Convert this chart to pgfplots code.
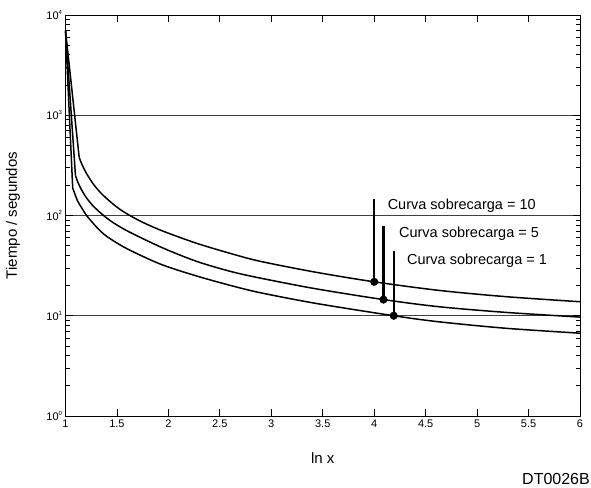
\documentclass[border=0pt]{standalone}
\usepackage{fontspec}
\setmainfont{Liberation Sans}
\usepackage{pgfplots}
\pgfplotsset{compat=1.18}
\newcommand{\dec}[1]{10\raisebox{0.9ex}{\fontsize{6}{6}\selectfont #1}}
\begin{document}
\begin{tikzpicture}
\begin{axis}[
    at={(0pt,0pt)}, anchor=south west,
    scale only axis, width=514.5pt, height=401pt,
    xmin=1, xmax=6,
    ymode=log, ymin=1, ymax=10000,
    xtick={1,1.5,2,2.5,3,3.5,4,4.5,5,5.5,6},
    xticklabels={1,1.5,2,2.5,3,3.5,4,4.5,5,5.5,6},
    ytick={1,10,100,1000,10000},
    yticklabels={\dec{0},\dec{1},\dec{2},\dec{3},\dec{4}},
    minor ytick={2,3,4,5,6,7,8,9,20,30,40,50,60,70,80,90,200,300,400,500,600,700,800,900,2000,3000,4000,5000,6000,7000,8000,9000},
    ymajorgrids, grid style={black!75, line width=0.8pt},
    tick align=inside, major tick length=7pt, minor tick length=4.5pt,
    axis line style={black, line width=0.9pt},
    every tick/.style={black, line width=0.8pt},
    ticklabel style={font=\fontsize{11}{13}\selectfont},
    xlabel={ln x}, ylabel={Tiempo / segundos},
    label style={font=\fontsize{15}{17}\selectfont},
    xlabel style={at={(axis description cs:0.5,0)}, anchor=base, yshift=-47pt},
    ylabel style={at={(axis description cs:-0.102,0.5)}, anchor=center},
    clip=false,
]
% curva sobrecarga = 10
\addplot[black, line width=1.5pt] coordinates {(1.000,7000) (1.133,380)};
\addplot[black, line width=1.5pt, smooth, tension=0.5] coordinates {
(1.133,380) (1.160,323) (1.200,267) (1.270,206) (1.350,165) (1.440,136)
(1.530,115) (1.626,100) (1.750,85.5) (1.945,70) (2.270,53) (2.597,42) (2.888,35)
(3.430,27.2) (4.000,21.8) (4.630,17.9) (5.280,15.5) (6.000,13.8)};
% curva sobrecarga = 5
\addplot[black, line width=1.5pt] coordinates {(1.000,7000) (1.097,250)};
\addplot[black, line width=1.5pt, smooth, tension=0.5] coordinates {
(1.097,250) (1.120,215) (1.150,185) (1.200,152) (1.270,124) (1.370,100)
(1.470,84) (1.626,68) (1.945,47.5) (2.270,35) (2.597,27.8) (2.888,23.8) (3.430,18.6)
(4.090,14.5) (4.630,12.3) (5.280,10.8) (6.000,9.7)};
% curva sobrecarga = 1
\addplot[black, line width=1.5pt] coordinates {(1.000,7000) (1.070,188)};
\addplot[black, line width=1.5pt, smooth, tension=0.5] coordinates {
(1.070,188) (1.090,165) (1.120,138) (1.160,118) (1.205,100) (1.300,77)
(1.400,62) (1.600,46.5) (1.930,32.5) (2.270,25) (2.600,20.1) (2.890,17.0) (3.430,13.3)
(4.190,10.0) (4.630,8.7) (5.280,7.5) (6.000,6.7)};
% marcadores
\addplot[black, line width=2.2pt] coordinates {(4.00,21.8) (4.00,145)};
\addplot[black, line width=2.2pt] coordinates {(4.09,14.5) (4.09,79)};
\addplot[black, line width=2.2pt] coordinates {(4.19,10.0) (4.19,44)};
\addplot[only marks, mark=*, mark size=3.8pt, black] coordinates {(4.00,21.8) (4.09,14.5) (4.19,10.0)};
\node[anchor=base west, inner sep=0pt, font=\fontsize{14.5}{16}\selectfont] at (axis cs:4.13,116) {Curva sobrecarga = 10};
\node[anchor=base west, inner sep=0pt, font=\fontsize{14.5}{16}\selectfont] at (axis cs:4.24,60.5) {Curva sobrecarga = 5};
\node[anchor=base west, inner sep=0pt, font=\fontsize{14.5}{16}\selectfont] at (axis cs:4.318,32.7) {Curva sobrecarga = 1};
\node[anchor=base east, inner sep=0pt, font=\fontsize{16}{18}\selectfont] at (rel axis cs:1,0) [xshift=10pt, yshift=-68pt] {DT0026B};
\end{axis}
\path (-65.5pt,-71pt) rectangle (525.5pt,416pt);
\end{tikzpicture}
\end{document}
